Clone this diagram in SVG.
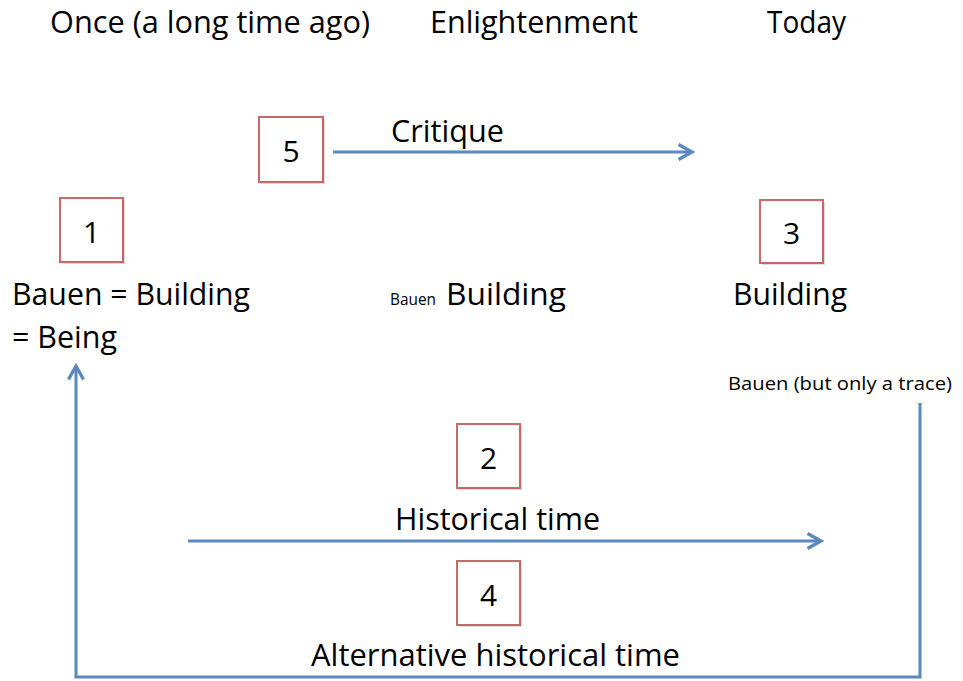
<svg xmlns="http://www.w3.org/2000/svg" width="963" height="681" viewBox="0 0 963 681">
<defs>
<style>
.t{font-family:"Open Sans",Lato,"Liberation Sans",sans-serif;fill:#000;}
.big{font-size:31px;}
.sm{font-size:19px;}
.box{fill:#fff;stroke:#C0504D;stroke-width:2;stroke-opacity:0.85;}
.sh{fill:#bbb;opacity:0.5;}
.ln{fill:none;stroke:#5A88C0;stroke-width:3;}
.num{font-family:"Open Sans",Lato,"Liberation Sans",sans-serif;font-size:30px;fill:#000;text-anchor:middle;}
</style>
<marker id="ah" viewBox="0 0 12 12" refX="10" refY="6" markerWidth="6" markerHeight="6" markerUnits="strokeWidth" orient="auto">
<path d="M1,1 L10,6 L1,11" fill="none" stroke="#5A88C0" stroke-width="2.2" stroke-linejoin="miter"/>
</marker>
</defs>
<rect width="963" height="681" fill="#fff"/>
<g id="headers">
<text class="t big" x="50" y="33" textLength="320" lengthAdjust="spacingAndGlyphs">Once (a long time ago)</text>
<text class="t big" x="430" y="33" textLength="208" lengthAdjust="spacingAndGlyphs">Enlightenment</text>
<text class="t big" x="767" y="33" textLength="79" lengthAdjust="spacingAndGlyphs">Today</text>
</g>
<g id="connectors">
<line class="ln" x1="333" y1="152" x2="692" y2="152" marker-end="url(#ah)"/>
<line class="ln" x1="188" y1="541" x2="821" y2="541" marker-end="url(#ah)"/>
<polyline class="ln" points="920,403 920,677 76,677 76,366" marker-end="url(#ah)"/>
</g>
<g id="node5">
<rect class="sh" x="261" y="119" width="64" height="65"/>
<rect class="box" x="259" y="117" width="64" height="65"/>
<text class="num" x="291" y="162">5</text>
<text class="t big" x="391" y="142" textLength="113" lengthAdjust="spacingAndGlyphs">Critique</text>
</g>
<g id="node1">
<rect class="sh" x="62" y="200" width="63" height="64"/>
<rect class="box" x="60" y="198" width="63" height="64"/>
<text class="num" x="91.5" y="243">1</text>
<text class="t big" x="12" y="305" textLength="238" lengthAdjust="spacingAndGlyphs">Bauen = Building</text>
<text class="t big" x="12" y="348" textLength="105" lengthAdjust="spacingAndGlyphs">= Being</text>
</g>
<g id="enlight">
<text class="t" font-size="17" x="390" y="305" textLength="46" lengthAdjust="spacingAndGlyphs">Bauen</text>
<text class="t big" x="446" y="305" textLength="120" lengthAdjust="spacingAndGlyphs">Building</text>
</g>
<g id="node3">
<rect class="sh" x="762" y="202" width="63" height="63"/>
<rect class="box" x="760" y="200" width="63" height="63"/>
<text class="num" x="791.5" y="244">3</text>
<text class="t big" x="733" y="305" textLength="114" lengthAdjust="spacingAndGlyphs">Building</text>
<text class="t sm" x="728" y="390" textLength="224" lengthAdjust="spacingAndGlyphs">Bauen (but only a trace)</text>
</g>
<g id="node2">
<rect class="sh" x="459" y="426" width="63" height="64"/>
<rect class="box" x="457" y="424" width="63" height="64"/>
<text class="num" x="488.5" y="469">2</text>
<text class="t big" x="395" y="530" textLength="205" lengthAdjust="spacingAndGlyphs">Historical time</text>
</g>
<g id="node4">
<rect class="sh" x="459" y="563" width="63" height="64"/>
<rect class="box" x="457" y="561" width="63" height="64"/>
<text class="num" x="488.5" y="606">4</text>
<text class="t big" x="311" y="666" textLength="369" lengthAdjust="spacingAndGlyphs">Alternative historical time</text>
</g>
</svg>
